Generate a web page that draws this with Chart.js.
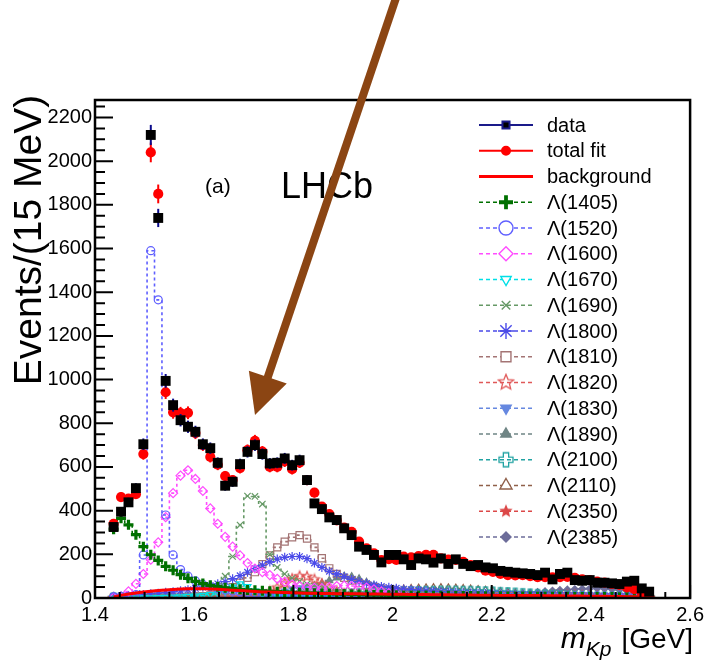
<!DOCTYPE html>
<html>
<head>
<meta charset="utf-8">
<script src="https://cdn.jsdelivr.net/npm/chart.js@4/dist/chart.umd.min.js"></script>
<style>
  html, body { margin: 0; padding: 0; background: #fff; }
  canvas { display: block; }
</style>
</head>
<body>
<canvas id="massChart" width="709" height="661"></canvas>
<script>
// bin centres (15 MeV bins) in GeV
const mass = [1.4375, 1.4525, 1.4675, 1.4825, 1.4975, 1.5125, 1.5275, 1.5425, 1.5575, 1.5725,
  1.5875, 1.6025, 1.6175, 1.6325, 1.6475, 1.6625, 1.6775, 1.6925, 1.7075, 1.7225,
  1.7375, 1.7525, 1.7675, 1.7825, 1.7975, 1.8125, 1.8275, 1.8425, 1.8575, 1.8725,
  1.8875, 1.9025, 1.9175, 1.9325, 1.9475, 1.9625, 1.9775, 1.9925, 2.0075, 2.0225,
  2.0375, 2.0525, 2.0675, 2.0825, 2.0975, 2.1125, 2.1275, 2.1425, 2.1575, 2.1725,
  2.1875, 2.2025, 2.2175, 2.2325, 2.2475, 2.2625, 2.2775, 2.2925, 2.3075, 2.3225,
  2.3375, 2.3525, 2.3675, 2.3825, 2.3975, 2.4125, 2.4275, 2.4425, 2.4575, 2.4725,
  2.4875, 2.5025, 2.5175];

const dataCounts = [325, 395, 438, 503, 704, 2120, 1740, 994, 883, 814,
  784, 761, 704, 686, 619, 514, 532, 613, 669, 700,
  659, 616, 619, 639, 608, 631, 540, 433, 407, 369,
  357, 319, 288, 235, 220, 197, 163, 197, 197, 177,
  151, 181, 177, 162, 181, 156, 177, 156, 146, 151,
  140, 136, 124, 120, 116, 113, 110, 105, 116, 85,
  110, 116, 82, 79, 82, 70, 70, 67, 64, 75,
  79, 44, 29];

const totalFit = [340, 462, 455, 475, 659, 2040, 1850, 942, 850, 846,
  848, 755, 700, 646, 610, 558, 540, 595, 677, 720,
  670, 600, 600, 625, 590, 620, 540, 482, 418, 384,
  355, 322, 303, 258, 227, 204, 174, 178, 174, 189,
  186, 192, 197, 197, 181, 176, 174, 166, 151, 140,
  125, 120, 110, 105, 104, 105, 100, 95, 96, 95,
  95, 97, 92, 85, 82, 75, 70, 64, 60, 49,
  40, 24, 9];

const background = [5, 12, 18, 23, 27, 31, 34, 37, 39, 41,
  42, 42, 42, 41, 40, 38, 36, 34, 32, 30,
  28, 27, 26, 25, 24, 23, 22, 22, 21, 21,
  20, 20, 19, 19, 18, 18, 18, 17, 17, 17,
  16, 16, 16, 15, 15, 15, 14, 14, 14, 13,
  13, 13, 12, 12, 12, 11, 11, 11, 10, 10,
  10, 9, 9, 9, 8, 8, 8, 7, 7, 6,
  6, 5, 4];

const lambda1405 = [315, 365, 335, 290, 235, 198, 172, 145, 127, 107,
  90, 76, 66, 58, 52, 47, 43, 40, 37, 35,
  33, 31, 29, 27, 26, 24, 23, 22, 21, 20,
  19, 18, 17, 16, 15, 14, 14, 13, 13, 12,
  12, 11, 11, 10, 10, 10, 9, 9, 9, 8,
  8, 8, 8, 7, 7, 7, 7, 6, 6, 6,
  6, 6, 5, 5, 5, 5, 5, 5, 4, 4,
  4, 4, 4];

const lambda1520 = [5, 6, 8, 15, 197, 1590, 1365, 380, 197, 130,
  100, 78, 62, 51, 43, 37, 32, 28, 25, 22,
  20, 18, 17, 16, 15, 14, 13, 12, 11, 11,
  10, 10, 9, 9, 9, 8, 8, 8, 7, 7,
  7, 7, 6, 6, 6, 6, 6, 5, 5, 5,
  5, 5, 5, 5, 4, 4, 4, 4, 4, 4,
  4, 4, 4, 3, 3, 3, 3, 3, 3, 3,
  3, 3, 3];

const lambda1600 = [2, 5, 30, 65, 110, 175, 255, 370, 480, 560,
  585, 545, 490, 410, 340, 280, 235, 195, 160, 135,
  118, 105, 88, 74, 63, 55, 50, 47, 45, 50,
  55, 57, 55, 52, 48, 40, 30, 22, 17, 14,
  12, 10, 9, 8, 7, 7, 6, 6, 5, 5,
  5, 4, 4, 4, 4, 4, 3, 3, 3, 3,
  3, 3, 3, 3, 2, 2, 2, 2, 2, 2,
  2, 2, 2];

const lambda1670 = [0, 0, 0, 0, 1, 1, 2, 3, 4, 5,
  7, 9, 12, 16, 22, 32, 50, 65, 52, 32,
  20, 14, 10, 8, 7, 6, 5, 5, 4, 4,
  4, 3, 3, 3, 3, 3, 3, 2, 2, 2,
  2, 2, 2, 2, 2, 2, 2, 2, 2, 2,
  2, 2, 2, 2, 2, 2, 2, 2, 2, 2,
  2, 2, 2, 2, 2, 2, 2, 2, 2, 2,
  2, 2, 2];

const lambda1690 = [0, 0, 0, 1, 1, 2, 2, 3, 3, 4,
  5, 6, 8, 12, 40, 100, 190, 334, 467, 465,
  430, 200, 140, 110, 90, 76, 64, 54, 47, 41,
  37, 33, 30, 27, 25, 23, 21, 19, 17, 16,
  15, 14, 13, 12, 11, 10, 10, 9, 9, 8,
  8, 7, 7, 7, 6, 6, 6, 5, 5, 5,
  5, 4, 4, 4, 4, 4, 3, 3, 3, 3,
  3, 3, 3];

const lambda1800 = [8, 10, 12, 14, 16, 19, 22, 26, 29, 33,
  38, 44, 50, 57, 65, 75, 88, 102, 118, 135,
  150, 165, 178, 186, 190, 190, 180, 160, 140, 122,
  110, 98, 85, 75, 67, 60, 53, 49, 45, 41,
  38, 36, 33, 31, 29, 27, 25, 24, 23, 22,
  21, 20, 19, 18, 17, 16, 15, 15, 14, 14,
  13, 13, 12, 12, 11, 11, 10, 10, 10, 9,
  9, 9, 8];

const lambda1810 = [0, 0, 0, 0, 1, 1, 1, 2, 2, 3,
  5, 7, 9, 12, 20, 32, 50, 70, 92, 118,
  155, 195, 232, 258, 278, 288, 272, 232, 182, 136,
  110, 92, 80, 68, 59, 50, 43, 37, 32, 28,
  25, 22, 20, 18, 16, 14, 13, 12, 11, 10,
  9, 9, 8, 8, 7, 7, 6, 6, 6, 5,
  5, 5, 5, 4, 4, 4, 4, 4, 3, 3,
  3, 3, 3];

const lambda1820 = [0, 0, 0, 0, 0, 0, 0, 0, 0, 1,
  1, 1, 1, 2, 2, 2, 3, 3, 5, 10,
  18, 30, 48, 68, 88, 100, 98, 85, 65, 45,
  30, 20, 14, 10, 8, 6, 5, 4, 4, 3,
  3, 3, 3, 3, 2, 2, 2, 2, 2, 2,
  2, 2, 2, 2, 2, 2, 2, 2, 2, 2,
  1, 1, 1, 1, 1, 1, 1, 1, 1, 1,
  1, 1, 1];

const lambda1830 = [0, 0, 0, 0, 0, 0, 0, 0, 0, 0,
  0, 0, 1, 1, 1, 2, 2, 3, 4, 6,
  9, 14, 22, 32, 42, 46, 44, 38, 29, 20,
  13, 9, 6, 5, 4, 3, 3, 2, 2, 2,
  2, 2, 2, 2, 2, 2, 2, 2, 2, 2,
  1, 1, 1, 1, 1, 1, 1, 1, 1, 1,
  1, 1, 1, 1, 1, 1, 1, 1, 1, 1,
  1, 1, 1];

const lambda1890 = [0, 0, 0, 0, 0, 0, 0, 1, 1, 1,
  1, 2, 2, 3, 3, 4, 5, 6, 7, 9,
  11, 14, 18, 23, 29, 36, 45, 56, 68, 80,
  92, 100, 98, 88, 72, 56, 43, 33, 26, 20,
  16, 13, 11, 9, 8, 7, 6, 6, 5, 5,
  4, 4, 4, 4, 3, 3, 3, 3, 3, 3,
  2, 2, 2, 2, 2, 2, 2, 2, 2, 2,
  2, 2, 2];

const lambda2100 = [0, 0, 0, 0, 0, 0, 0, 0, 0, 0,
  0, 0, 0, 1, 1, 1, 1, 1, 1, 2,
  2, 3, 4, 5, 6, 7, 8, 10, 11, 12,
  14, 15, 17, 18, 20, 21, 23, 24, 25, 26,
  27, 28, 29, 29, 30, 30, 30, 29, 29, 28,
  27, 26, 24, 23, 21, 19, 17, 15, 13, 11,
  10, 8, 7, 6, 5, 4, 4, 3, 3, 2,
  2, 2, 1];

const lambda2110 = [0, 0, 0, 0, 0, 0, 0, 0, 0, 0,
  0, 0, 0, 0, 1, 1, 1, 1, 1, 2,
  2, 3, 3, 4, 5, 6, 7, 8, 10, 12,
  14, 16, 18, 21, 24, 27, 30, 33, 36, 39,
  41, 43, 44, 45, 45, 44, 43, 41, 39, 36,
  33, 30, 27, 24, 21, 18, 15, 13, 11, 9,
  7, 6, 5, 4, 3, 3, 2, 2, 2, 1,
  1, 1, 1];

const lambda2350 = [0, 0, 0, 0, 0, 0, 0, 0, 0, 0,
  0, 0, 0, 0, 0, 0, 0, 0, 0, 0,
  0, 0, 0, 0, 0, 0, 0, 0, 0, 0,
  0, 0, 0, 0, 0, 0, 1, 1, 1, 1,
  1, 1, 2, 2, 3, 3, 4, 5, 6, 7,
  8, 10, 11, 13, 14, 16, 17, 18, 19, 20,
  20, 20, 19, 18, 17, 15, 13, 11, 9, 7,
  5, 4, 3];

const lambda2385 = [0, 0, 0, 0, 0, 0, 0, 0, 0, 0,
  0, 0, 0, 0, 0, 0, 0, 0, 0, 0,
  0, 0, 0, 0, 0, 0, 0, 0, 0, 0,
  0, 0, 0, 0, 0, 0, 0, 1, 1, 1,
  1, 2, 2, 3, 3, 4, 5, 6, 7, 8,
  10, 12, 14, 16, 18, 21, 24, 27, 30, 33,
  36, 38, 40, 42, 43, 43, 42, 40, 37, 33,
  28, 22, 16];

const xTickValues = [1.4, 1.6, 1.8, 2.0, 2.2, 2.4, 2.6];
const xTickLabels = ['1.4', '1.6', '1.8', '2', '2.2', '2.4', '2.6'];
const yTickValues = [0, 200, 400, 600, 800, 1000, 1200, 1400, 1600, 1800, 2000, 2200];
const yTickLabels = ['0', '200', '400', '600', '800', '1000', '1200', '1400', '1600', '1800', '2000', '2200'];

const FONT = "'Liberation Sans', Arial, Helvetica, sans-serif";
Chart.defaults.font.family = FONT;
Chart.defaults.color = '#000';

// custom marker shapes (ROOT open/filled star, open cross)
function starMarker(color, filled, r) {
  const c = document.createElement('canvas');
  const s = Math.ceil(r * 2 + 4);
  c.width = c.height = s;
  const g = c.getContext('2d');
  g.beginPath();
  for (let k = 0; k < 10; k++) {
    const a = -Math.PI / 2 + k * Math.PI / 5;
    const rr = k % 2 ? r * 0.45 : r;
    g.lineTo(s / 2 + rr * Math.cos(a), s / 2 + rr * Math.sin(a));
  }
  g.closePath();
  if (filled) { g.fillStyle = color; g.fill(); }
  else { g.strokeStyle = color; g.lineWidth = 1.3; g.stroke(); }
  return c;
}
function openCrossMarker(color, r) {
  const c = document.createElement('canvas');
  const s = Math.ceil(r * 2 + 4);
  c.width = c.height = s;
  const g = c.getContext('2d');
  const m = s / 2, w = r * 0.38;
  g.beginPath();
  g.moveTo(m - w, m - r); g.lineTo(m + w, m - r); g.lineTo(m + w, m - w); g.lineTo(m + r, m - w);
  g.lineTo(m + r, m + w); g.lineTo(m + w, m + w); g.lineTo(m + w, m + r); g.lineTo(m - w, m + r);
  g.lineTo(m - w, m + w); g.lineTo(m - r, m + w); g.lineTo(m - r, m - w); g.lineTo(m - w, m - w);
  g.closePath();
  g.strokeStyle = color; g.lineWidth = 1.3; g.stroke();
  return c;
}

const components = [
  { label: 'Λ(1405)', values: lambda1405, color: '#007000', style: 'cross', r: 5, lr: 7, bw: 3.2 },
  { label: 'Λ(1520)', values: lambda1520, color: '#5f5fff', style: 'circle', open: true, r: 4, lr: 7 },
  { label: 'Λ(1600)', values: lambda1600, color: '#ff4cff', style: 'rectRot', open: true, r: 4.5, lr: 7 },
  { label: 'Λ(1670)', values: lambda1670, color: '#00dfe6', style: 'triangle', rot: 180, open: true, r: 4, lr: 6 },
  { label: 'Λ(1690)', values: lambda1690, color: '#669966', style: 'crossRot', r: 4.5, lr: 6 },
  { label: 'Λ(1800)', values: lambda1800, color: '#4a4ae8', style: 'star', r: 4.5, lr: 8 },
  { label: 'Λ(1810)', values: lambda1810, color: '#a47474', style: 'rect', open: true, r: 5, lr: 7 },
  { label: 'Λ(1820)', values: lambda1820, color: '#e05858', custom: 'openStar', r: 5, lr: 8 },
  { label: 'Λ(1830)', values: lambda1830, color: '#6688e0', style: 'triangle', rot: 180, r: 4, lr: 6 },
  { label: 'Λ(1890)', values: lambda1890, color: '#6f8585', style: 'triangle', r: 4, lr: 6 },
  { label: 'Λ(2100)', values: lambda2100, color: '#20a2a2', custom: 'openCross', r: 5, lr: 7 },
  { label: 'Λ(2110)', values: lambda2110, color: '#90604a', style: 'triangle', open: true, r: 4.5, lr: 7 },
  { label: 'Λ(2350)', values: lambda2350, color: '#dc4848', custom: 'star', r: 5, lr: 7 },
  { label: 'Λ(2385)', values: lambda2385, color: '#6d6d9a', style: 'rectRot', r: 3.5, lr: 5 }
];

const pts = vals => mass.map((m, i) => ({ x: m, y: vals[i] }));

function markerFor(c, r) {
  if (c.custom === 'openStar') return starMarker(c.color, false, r);
  if (c.custom === 'star') return starMarker(c.color, true, r);
  if (c.custom === 'openCross') return openCrossMarker(c.color, r);
  return c.style;
}

const datasets = [
  { label: 'data', data: pts(dataCounts), showLine: false, pointStyle: 'rect', pointRadius: 7,
    pointBackgroundColor: '#000', pointBorderWidth: 0, errColor: '#0a0a8a', legendLine: '#1a1a8a' },
  { label: 'total fit', data: pts(totalFit), showLine: false, pointStyle: 'circle', pointRadius: 5.1,
    pointBackgroundColor: '#ff0000', pointBorderWidth: 0, errColor: '#ff0000', legendLine: '#ff0000' },
  { label: 'background', data: pts(background), pointRadius: 0, borderColor: '#ff0000', borderWidth: 3 }
];
components.forEach(c => {
  datasets.push({
    label: c.label,
    data: pts(c.values),
    stepped: 'middle',
    borderColor: c.color,
    borderWidth: 1.6,
    borderDash: [3, 3],
    pointStyle: markerFor(c, c.r),
    pointRotation: c.rot || 0,
    pointRadius: c.r,
    pointBorderColor: c.color,
    pointBackgroundColor: c.open ? 'rgba(255,255,255,0)' : c.color,
    pointBorderWidth: c.bw || 1.2,
    comp: c
  });
});

function drawMarker(ctx, style, rot, r, x, y) {
  if (Chart.helpers && Chart.helpers.drawPoint) {
    Chart.helpers.drawPoint(ctx, { pointStyle: style, rotation: rot, radius: r, borderWidth: ctx.lineWidth }, x, y);
  } else {
    ctx.beginPath(); ctx.arc(x, y, r, 0, Math.PI * 2); ctx.fill(); ctx.stroke();
  }
}

const errorBars = {
  id: 'errorBars',
  beforeDatasetDraw(chart, args) {
    const ds = chart.data.datasets[args.index];
    if (!ds.errColor) return;
    const ctx = chart.ctx, ys = chart.scales.y;
    ctx.save();
    ctx.strokeStyle = ds.errColor;
    ctx.lineWidth = 2;
    args.meta.data.forEach((pt, i) => {
      const v = ds.data[i].y, e = Math.sqrt(v);
      ctx.beginPath();
      ctx.moveTo(pt.x, ys.getPixelForValue(v - e));
      ctx.lineTo(pt.x, ys.getPixelForValue(v + e));
      ctx.stroke();
    });
    ctx.restore();
  }
};

const frameTicks = {
  id: 'frameTicks',
  afterDatasetsDraw(chart) {
    const { ctx, chartArea: a } = chart;
    const xs = chart.scales.x, ys = chart.scales.y;
    ctx.save();
    ctx.strokeStyle = '#000';
    ctx.lineWidth = 2;
    ctx.beginPath();
    for (let k = 0; k <= 45; k++) {
      const v = k * 50, py = ys.getPixelForValue(v);
      const len = k % 4 === 0 ? 18 : 10;
      ctx.moveTo(a.left, py); ctx.lineTo(a.left + len, py);
    }
    for (let k = 0; k <= 24; k++) {
      const px = xs.getPixelForValue(1.4 + k * 0.05);
      const len = k % 4 === 0 ? 13 : 6;
      ctx.moveTo(px, a.bottom); ctx.lineTo(px, a.bottom - len);
    }
    ctx.stroke();
    ctx.lineWidth = 2.5;
    ctx.strokeRect(a.left, a.top, a.right - a.left, a.bottom - a.top);
    ctx.restore();
  }
};

const overlay = {
  id: 'overlay',
  afterDraw(chart) {
    const ctx = chart.ctx;
    ctx.save();
    ctx.fillStyle = '#000';
    // labels in plot
    ctx.font = `21px ${FONT}`;
    ctx.textBaseline = 'alphabetic';
    ctx.fillText('(a)', 205, 193);
    ctx.font = `36px ${FONT}`;
    ctx.fillText('LHCb', 281, 198);

    // y title
    ctx.save();
    ctx.translate(41, 240);
    ctx.rotate(-Math.PI / 2);
    ctx.font = `39px ${FONT}`;
    ctx.textAlign = 'center';
    ctx.fillText('Events/(15 MeV)', 0, 0);
    ctx.restore();

    // x title: m_Kp [GeV], right aligned
    ctx.textAlign = 'left';
    ctx.font = `28px ${FONT}`;
    const wUnit = ctx.measureText('[GeV]').width;
    const xUnit = 693 - wUnit;
    ctx.fillText('[GeV]', xUnit, 648);
    ctx.font = `italic 21px ${FONT}`;
    const wSub = ctx.measureText('Kp').width;
    const xSub = xUnit - 10 - wSub;
    ctx.fillText('Kp', xSub, 656);
    ctx.font = `italic 30px ${FONT}`;
    const wM = ctx.measureText('m').width;
    ctx.fillText('m', xSub - wM, 648);

    // legend
    const rows = chart.data.datasets;
    const y0 = 125, dy = 25.75, lx0 = 479, lx1 = 533, mx = 506, tx = 547;
    rows.forEach((ds, i) => {
      const y = y0 + i * dy;
      ctx.save();
      if (ds.comp) {
        const c = ds.comp;
        ctx.strokeStyle = c.color; ctx.lineWidth = 1.6; ctx.setLineDash([4, 3]);
        ctx.beginPath(); ctx.moveTo(lx0, y); ctx.lineTo(lx1, y); ctx.stroke();
        ctx.setLineDash([]);
        ctx.fillStyle = c.open ? '#fff' : c.color;
        ctx.lineWidth = c.bw ? c.bw + 0.6 : 1.4;
        drawMarker(ctx, markerFor(c, c.lr), c.rot || 0, c.lr, mx, y);
      } else if (ds.errColor) {
        ctx.strokeStyle = ds.legendLine; ctx.lineWidth = 2;
        ctx.beginPath(); ctx.moveTo(lx0, y); ctx.lineTo(lx1, y); ctx.stroke();
        ctx.fillStyle = ds.pointBackgroundColor; ctx.lineWidth = 0;
        drawMarker(ctx, ds.pointStyle, 0, ds.pointStyle === 'rect' ? 5 : 4, mx, y);
      } else {
        ctx.strokeStyle = ds.borderColor; ctx.lineWidth = 3;
        ctx.beginPath(); ctx.moveTo(lx0, y); ctx.lineTo(lx1, y); ctx.stroke();
      }
      ctx.restore();
      ctx.fillStyle = '#000';
      ctx.font = `20px ${FONT}`;
      ctx.textBaseline = 'middle';
      ctx.fillText(ds.label, tx, y + 1);
    });

    // brown arrow
    const tail = [397, -5], tip = [255, 415];
    const dx = tip[0] - tail[0], dy2 = tip[1] - tail[1];
    const len = Math.hypot(dx, dy2), ux = dx / len, uy = dy2 / len;
    const hl = 40, hw = 20;
    const bx = tip[0] - hl * ux, by = tip[1] - hl * uy;
    ctx.strokeStyle = '#8b4513';
    ctx.fillStyle = '#8b4513';
    ctx.lineWidth = 8;
    ctx.beginPath(); ctx.moveTo(tail[0], tail[1]); ctx.lineTo(bx + 4 * ux, by + 4 * uy); ctx.stroke();
    ctx.beginPath();
    ctx.moveTo(tip[0], tip[1]);
    ctx.lineTo(bx - hw * uy, by + hw * ux);
    ctx.lineTo(bx + hw * uy, by - hw * ux);
    ctx.closePath();
    ctx.fill();
    ctx.restore();
  }
};

const chart = new Chart(document.getElementById('massChart').getContext('2d'), {
  type: 'line',
  data: { datasets },
  options: {
    responsive: false,
    animation: false,
    events: [],
    layout: { padding: { top: 100, right: 14, bottom: 0, left: 0 } },
    plugins: { legend: { display: false }, tooltip: { enabled: false } },
    elements: { line: { fill: false, tension: 0 } },
    scales: {
      x: {
        type: 'linear', min: 1.4, max: 2.6,
        grid: { display: false, drawTicks: false },
        border: { display: false },
        afterBuildTicks: s => { s.ticks = xTickValues.map(v => ({ value: v })); },
        afterFit: s => { s.height = 63; },
        ticks: { font: { size: 20 }, padding: 5, maxRotation: 0, autoSkip: false,
          callback: (v, i) => xTickLabels[i] }
      },
      y: {
        type: 'linear', min: 0, max: 2280,
        grid: { display: false, drawTicks: false },
        border: { display: false },
        afterBuildTicks: s => { s.ticks = yTickValues.map(v => ({ value: v })); },
        afterFit: s => { s.width = 95; },
        ticks: { font: { size: 20 }, padding: 3, autoSkip: false,
          callback: (v, i) => yTickLabels[i] }
      }
    }
  },
  plugins: [errorBars, frameTicks, overlay]
});
</script>
</body>
</html>
